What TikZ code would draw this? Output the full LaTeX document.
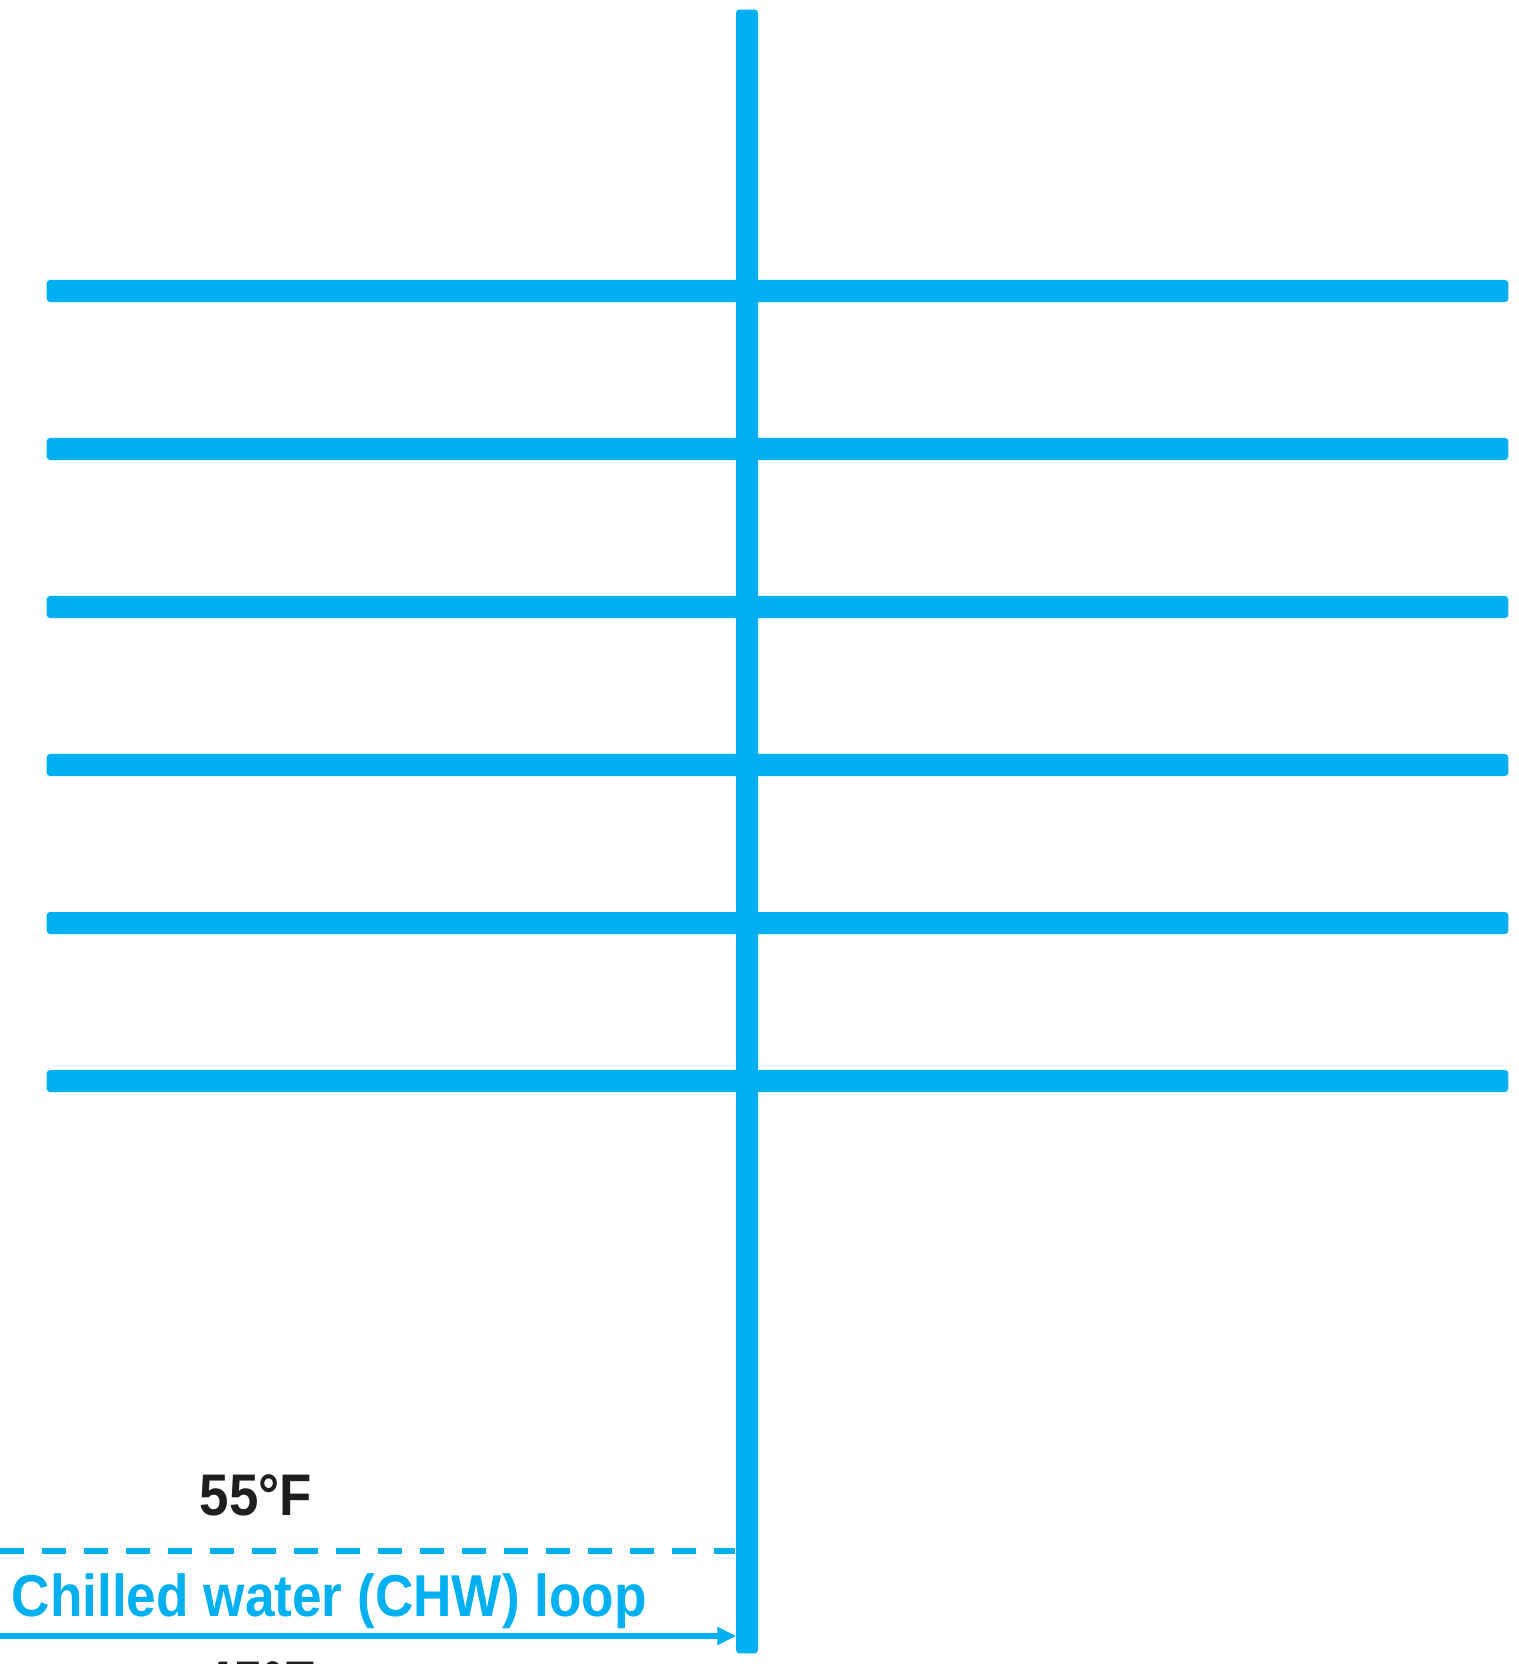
\documentclass[tikz,border=0pt]{standalone}
\usepackage{fontspec}
\setmainfont{Liberation Sans}
\newfontfamily\narrowsans[FakeStretch=0.9]{Liberation Sans}
\usetikzlibrary{arrows.meta}
\definecolor{chw}{HTML}{00B0F0}
\definecolor{ink}{HTML}{1E1E1E}

\begin{document}
\begin{tikzpicture}[
  x=0.01cm,y=-0.01cm,
  pipe/.style={fill=chw,inner sep=0pt,rounded corners=1pt},
  temp/.style={font=\narrowsans\bfseries\fontsize{16.7}{20}\selectfont,text=ink,anchor=base,inner sep=0pt},
  looplabel/.style={font=\narrowsans\bfseries\fontsize{16.8}{20}\selectfont,text=chw,anchor=base west,inner sep=0pt},
  ret/.style={chw,line width=0.055cm,dash pattern=on 0.24cm off 0.18cm},
  sup/.style={chw,line width=0.065cm,-{Triangle[length=0.19cm,width=0.17cm]}}
]
\useasboundingbox (0,0) rectangle (1518,1664);
% floor branches
\foreach \y [count=\i] in {291,449,607,765,923,1081}
  \node[pipe,minimum width=14.61cm,minimum height=0.22cm] (branch\i) at (777.5,\y) {};
% riser
\node[pipe,minimum width=0.22cm,minimum height=16.43cm] (riser) at (747,831.5) {};
% labels
\node[temp] (rettemp) at (256,1515) {55°F};
\node[looplabel] (loop) at (11,1616) {Chilled water (CHW) loop};
\node[temp] (suptemp) at (260,1702) {45°F};
% loop lines
\coordinate (retstart) at (0,1551);
\coordinate (supstart) at (0,1636);
\draw[ret] (retstart) -- (retstart -| riser.west);
\draw[sup] (supstart) -- ([xshift=0.01cm]supstart -| riser.west);
\end{tikzpicture}
\end{document}
